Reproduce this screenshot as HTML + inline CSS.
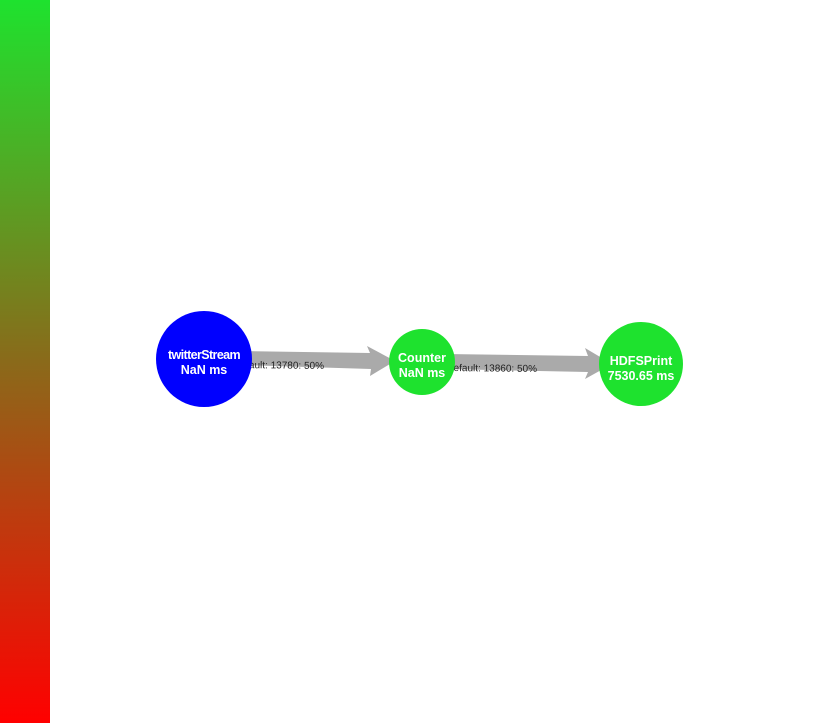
<!DOCTYPE html>
<html><head><meta charset="utf-8"><style>
body{margin:0;background:#fff;width:834px;height:723px;overflow:hidden;font-family:"Liberation Sans",Arial,sans-serif}
</style></head><body>
<svg width="834" height="723">
<defs><linearGradient id="g" x1="0" y1="0" x2="0" y2="1"><stop offset="0" stop-color="#1ee22e"/><stop offset="0.5" stop-color="#8a6a1a"/><stop offset="1" stop-color="#ff0000"/></linearGradient></defs>
<rect x="0" y="0" width="50" height="723" fill="url(#g)"/>
<g>
<polygon points="240,351 370,353 367,346 395,361 370,376 371,369 240,365" fill="#aaaaaa"/>
<text x="235" y="368" font-size="10" fill="#222" transform="rotate(0.6 235 368)">default: 13780: 50%</text>
</g>
<g>
<polygon points="445,354 588,356 585,348 612,364 585,379 588,372 445,369" fill="#aaaaaa"/>
<text x="448" y="371" font-size="10" fill="#222" transform="rotate(0.6 448 371)">default: 13860: 50%</text>
</g>
<g>
<circle cx="204" cy="359" r="48" fill="#0000ff"/>
<text x="204" y="359" font-size="12.5" font-weight="bold" fill="#fff" text-anchor="middle" letter-spacing="-0.6">twitterStream</text>
<text x="204" y="374" font-size="12.5" font-weight="bold" fill="#fff" text-anchor="middle">NaN ms</text>
</g>
<g>
<circle cx="422" cy="362" r="33" fill="#1ee22e"/>
<text x="422" y="362" font-size="12.5" font-weight="bold" fill="#fff" text-anchor="middle">Counter</text>
<text x="422" y="377" font-size="12.5" font-weight="bold" fill="#fff" text-anchor="middle">NaN ms</text>
</g>
<g>
<circle cx="641" cy="364" r="42" fill="#1ee22e"/>
<text x="641" y="365" font-size="12.5" font-weight="bold" fill="#fff" text-anchor="middle">HDFSPrint</text>
<text x="641" y="380" font-size="12.5" font-weight="bold" fill="#fff" text-anchor="middle">7530.65 ms</text>
</g>
</svg>
</body></html>
